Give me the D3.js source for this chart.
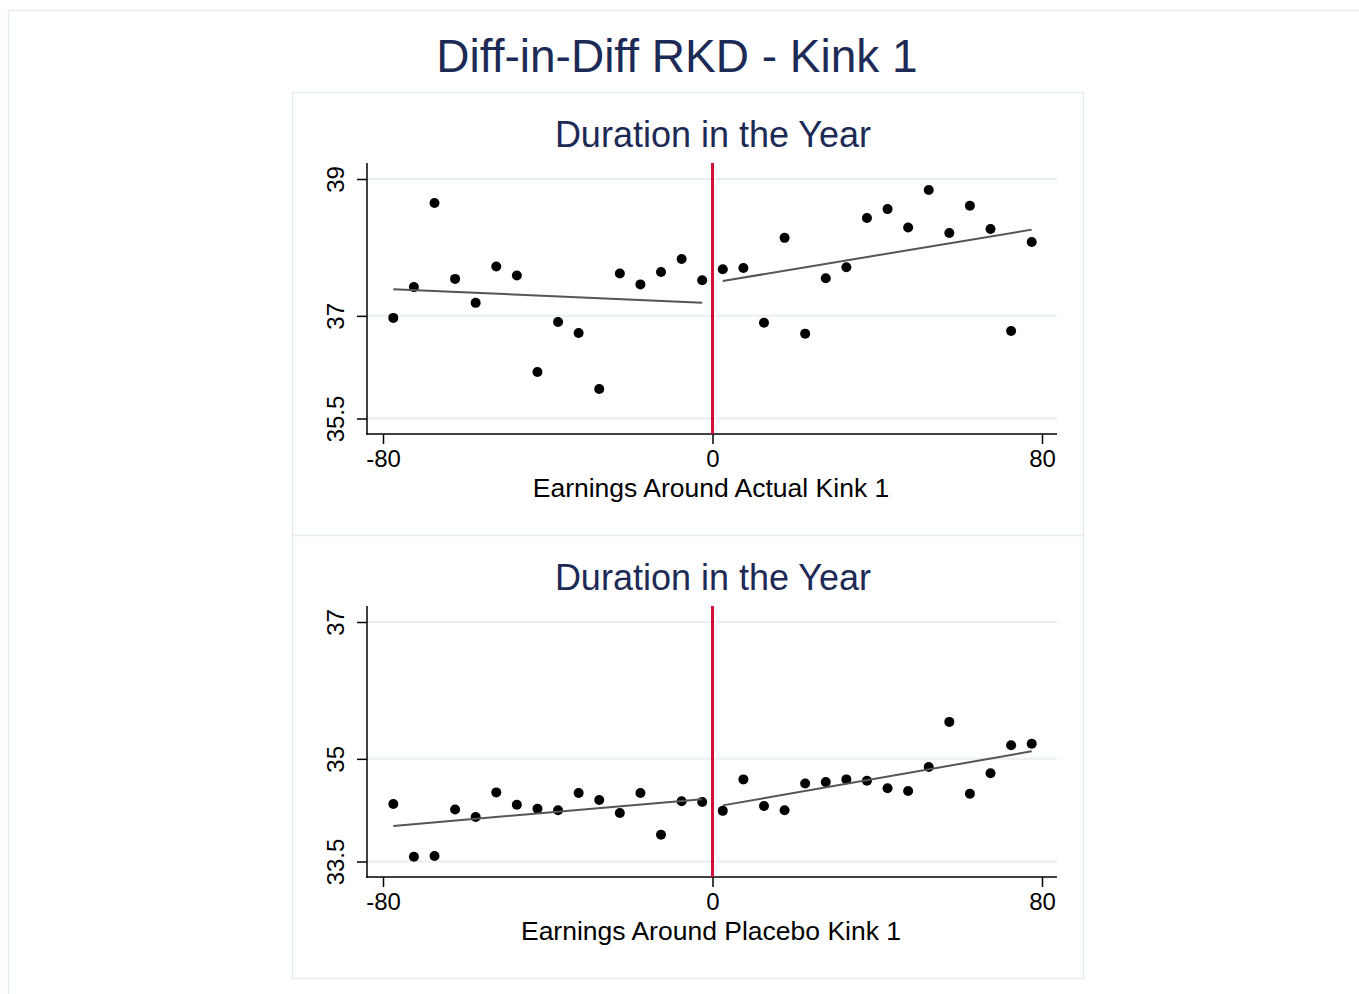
<!DOCTYPE html>
<html>
<head>
<meta charset="utf-8">
<script src="https://cdn.jsdelivr.net/npm/d3@7"></script>
<style>
  body { margin: 0; background: #fff; }
  text { font-family: "Liberation Sans", Arial, sans-serif; }
</style>
</head>
<body>
<svg id="chart" width="1359" height="994"></svg>
<script>
// bin midpoints (earnings around kink)
const binsX = [-77.5, -72.5, -67.5, -62.5, -57.5, -52.5, -47.5, -42.5,
  -37.5, -32.5, -27.5, -22.5, -17.5, -12.5, -7.5, -2.5,
  2.5, 7.5, 12.5, 17.5, 22.5, 27.5, 32.5, 37.5,
  42.5, 47.5, 52.5, 57.5, 62.5, 67.5, 72.5, 77.5];

// bin means, actual kink
const actualY = [36.97, 37.42, 38.65, 37.54, 37.19, 37.72, 37.59, 36.18,
  36.91, 36.75, 35.93, 37.62, 37.46, 37.64, 37.83, 37.52,
  37.68, 37.70, 36.90, 38.14, 36.74, 37.55, 37.71, 38.43,
  38.56, 38.29, 38.84, 38.21, 38.61, 38.27, 36.78, 38.08];

// bin means, placebo kink
const placeboY = [34.34, 33.57, 33.58, 34.26, 34.15, 34.51, 34.33, 34.27,
  34.25, 34.50, 34.40, 34.21, 34.50, 33.89, 34.38, 34.37,
  34.24, 34.70, 34.31, 34.25, 34.64, 34.66, 34.70, 34.68,
  34.57, 34.53, 34.88, 35.54, 34.49, 34.79, 35.20, 35.22];

// linear fits (endpoints) on each side of the kink
const fitLeftX = [-77.5, -2.5];
const fitRightX = [2.5, 77.5];
const actualFitLeft = [37.39, 37.19];
const actualFitRight = [37.51, 38.26];
const placeboFitLeft = [34.02, 34.41];
const placeboFitRight = [34.32, 35.11];

const xTicks = [-80, 0, 80];
const actualTicks = [35.5, 37, 39];
const placeboTicks = [33.5, 35, 37];

const svg = d3.select("#chart");
const titleColor = "#1c2a55";
const frameColor = "#e6edf1";

// outer graph frame
svg.append("rect")
  .attr("x", 8.5).attr("y", 10.5)
  .attr("width", 1400).attr("height", 1100)
  .attr("fill", "none")
  .attr("stroke", frameColor)
  .attr("stroke-width", 1.5);

svg.append("text")
  .attr("x", 677).attr("y", 72)
  .attr("text-anchor", "middle")
  .attr("font-size", 46)
  .attr("fill", titleColor)
  .text("Diff-in-Diff RKD - Kink 1");

const panels = [
  { top: 92, ys: actualY, ticks: actualTicks, fitL: actualFitLeft, fitR: actualFitRight,
    xtitle: "Earnings Around Actual Kink 1" },
  { top: 535, ys: placeboY, ticks: placeboTicks, fitL: placeboFitLeft, fitR: placeboFitRight,
    xtitle: "Earnings Around Placebo Kink 1" }
];

panels.forEach(p => drawPanel(p));

function drawPanel(p) {
  const g = svg.append("g").attr("transform", "translate(0," + p.top + ")");

  // panel box
  g.append("rect")
    .attr("x", 292.5).attr("y", 0.5)
    .attr("width", 791).attr("height", 443)
    .attr("fill", "#fff")
    .attr("stroke", frameColor)
    .attr("stroke-width", 1.5);

  const plotLeft = 367, plotRight = 1057, plotTop = 71, plotBottom = 342;

  const x = d3.scaleLinear().domain([-80, 80]).range([383, 1042]);
  const y = d3.scaleLinear()
    .domain([p.ticks[0], p.ticks[2]])
    .range([326.5, 87]);

  // gridlines
  g.append("g").selectAll("line")
    .data(p.ticks)
    .join("line")
    .attr("x1", plotLeft).attr("x2", plotRight)
    .attr("y1", d => y(d)).attr("y2", d => y(d))
    .attr("stroke", "#e8eff3")
    .attr("stroke-width", 2);

  // subtitle
  g.append("text")
    .attr("x", 713).attr("y", 55)
    .attr("text-anchor", "middle")
    .attr("font-size", 36)
    .attr("fill", titleColor)
    .text("Duration in the Year");

  // x axis
  const xAxis = g.append("g")
    .attr("transform", "translate(0," + plotBottom + ")")
    .call(d3.axisBottom(x).tickValues(xTicks).tickSize(10).tickPadding(6).tickFormat(d => String(d)));
  xAxis.select(".domain").remove();
  xAxis.selectAll(".tick line").attr("stroke", "#000").attr("stroke-width", 1.5);
  xAxis.selectAll(".tick text")
    .attr("font-size", 24)
    .attr("font-family", "Liberation Sans, Arial, sans-serif")
    .attr("fill", "#000");

  g.append("line")
    .attr("x1", plotLeft - 0.75).attr("x2", plotRight)
    .attr("y1", plotBottom).attr("y2", plotBottom)
    .attr("stroke", "#000").attr("stroke-width", 1.5);

  // y axis
  const yAxis = g.append("g")
    .attr("transform", "translate(" + plotLeft + ",0)")
    .call(d3.axisLeft(y).tickValues(p.ticks).tickSize(10).tickFormat(d => String(d)));
  yAxis.select(".domain").remove();
  yAxis.selectAll(".tick line").attr("stroke", "#000").attr("stroke-width", 1.5);
  yAxis.selectAll(".tick text")
    .attr("x", 0).attr("dy", null)
    .attr("transform", "translate(-23.5,0) rotate(-90)")
    .attr("text-anchor", "middle")
    .attr("font-size", 24)
    .attr("font-family", "Liberation Sans, Arial, sans-serif")
    .attr("fill", "#000");

  g.append("line")
    .attr("x1", plotLeft).attr("x2", plotLeft)
    .attr("y1", plotTop).attr("y2", plotBottom + 0.75)
    .attr("stroke", "#000").attr("stroke-width", 1.5);

  // x title
  g.append("text")
    .attr("x", 711).attr("y", 405)
    .attr("text-anchor", "middle")
    .attr("font-size", 26.5)
    .attr("fill", "#000")
    .text(p.xtitle);

  // scatter points
  g.append("g").selectAll("circle")
    .data(binsX.map((b, i) => [b, p.ys[i]]))
    .join("circle")
    .attr("cx", d => x(d[0]))
    .attr("cy", d => y(d[1]))
    .attr("r", 5)
    .attr("fill", "#000");

  // fitted lines
  const line = d3.line().x(d => x(d[0])).y(d => y(d[1]));
  [[fitLeftX, p.fitL], [fitRightX, p.fitR]].forEach(([xs, vs]) => {
    g.append("path")
      .datum(xs.map((v, i) => [v, vs[i]]))
      .attr("d", line)
      .attr("fill", "none")
      .attr("stroke", "#555")
      .attr("stroke-width", 2);
  });

  // kink line
  g.append("line")
    .attr("x1", x(0)).attr("x2", x(0))
    .attr("y1", plotTop).attr("y2", plotBottom)
    .attr("stroke", "#d0103a")
    .attr("stroke-width", 3);
}
</script>
</body>
</html>
